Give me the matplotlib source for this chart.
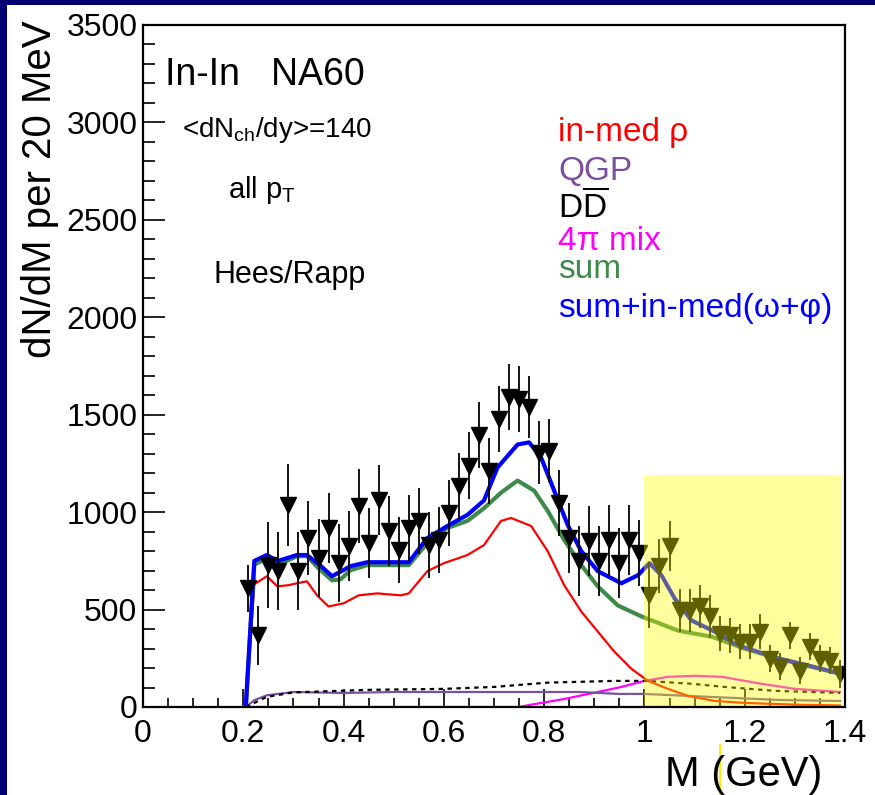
import numpy as np
import matplotlib
matplotlib.use("Agg")
import matplotlib.pyplot as plt
from matplotlib.patches import Rectangle
from matplotlib.lines import Line2D
from matplotlib.ticker import MultipleLocator

plt.rcParams['font.family'] = ['Liberation Sans', 'DejaVu Sans']
plt.rcParams['mathtext.fontset'] = 'custom'
plt.rcParams['mathtext.rm'] = 'Liberation Sans'
plt.rcParams['mathtext.it'] = 'Liberation Sans:italic'
plt.rcParams['mathtext.bf'] = 'Liberation Sans:bold'

# === NA60 data (In-In), 20 MeV bins ===
m_data = np.round(np.arange(0.21, 1.40, 0.02), 3)
y_data = [610, 367, 728, 697, 1038, 697, 867, 764, 919, 738,
          826, 1033, 841, 1064, 903, 805, 919, 955, 831, 857,
          996, 1136, 1239, 1394, 1213, 1477, 1590, 1580, 1538, 1306,
          1316, 1048, 867, 749, 852, 749, 857, 738, 857, 790,
          573, 723, 826, 496, 496, 516, 465, 377, 367, 336,
          336, 387, 248, 206, 367, 186, 310, 248, 237, 170]
err_data = [120, 150, 220, 200, 210, 200, 190, 200, 180, 200,
            180, 190, 180, 180, 180, 170, 170, 170, 170, 170,
            170, 170, 170, 170, 170, 170, 170, 170, 160, 160,
            160, 170, 180, 180, 180, 180, 180, 180, 180, 170,
            170, 140, 130, 110, 110, 110, 110, 90, 90, 90,
            90, 90, 70, 70, 70, 70, 70, 70, 70, 70]

# === Theory curves (Hees/Rapp) ===
m_rho = [0.205, 0.222, 0.247, 0.268, 0.29, 0.307, 0.327, 0.347, 0.37, 0.40,
         0.43, 0.467, 0.514, 0.53, 0.567, 0.60, 0.647, 0.68, 0.714, 0.734,
         0.774, 0.807, 0.84, 0.874, 0.907, 0.94, 0.974, 1.007, 1.047, 1.087,
         1.14, 1.2, 1.3, 1.39]
y_rho = [0, 630, 671, 619, 625, 635, 645, 573, 516, 532,
         573, 583, 573, 583, 697, 738, 780, 831, 955, 970,
         929, 800, 625, 490, 387, 284, 196, 134, 93, 57,
         31, 21, 12, 8]

m_qgp = [0.205, 0.222, 0.247, 0.30, 0.40, 0.50, 0.60, 0.70, 0.80, 0.87,
         0.95, 1.0, 1.13, 1.27, 1.39]
y_qgp = [0, 35, 60, 77, 72, 77, 77, 77, 77, 77, 67, 67, 52, 36, 31]

m_ddbar = [0.205, 0.247, 0.30, 0.45, 0.60, 0.70, 0.807, 0.94, 1.0, 1.034,
           1.1, 1.16, 1.26, 1.39]
y_ddbar = [0, 52, 75, 88, 93, 103, 125, 134, 134, 129, 118, 103, 83, 72]

m_mix = [0.20, 0.75, 0.77, 0.84, 0.907, 0.954, 1.0, 1.047, 1.1, 1.154,
         1.234, 1.3, 1.39]
y_mix = [0, 0, 10, 41, 77, 103, 134, 155, 160, 155, 119, 93, 77]

m_sum = [0.205, 0.222, 0.247, 0.268, 0.307, 0.327, 0.35, 0.377, 0.394, 0.414,
         0.447, 0.487, 0.53, 0.567, 0.607, 0.647, 0.68, 0.714, 0.747, 0.78,
         0.807, 0.84, 0.874, 0.907, 0.947, 0.994, 1.067, 1.134, 1.2, 1.267,
         1.334, 1.39]
y_sum = [0, 730, 764, 728, 774, 774, 712, 650, 655, 702,
         728, 728, 728, 841, 919, 955, 1020, 1100, 1162, 1110,
         1007, 857, 728, 619, 521, 465, 392, 361, 299, 248,
         206, 170]

m_sumw = [0.205, 0.222, 0.247, 0.268, 0.307, 0.327, 0.355, 0.377, 0.414, 0.447,
          0.53, 0.567, 0.607, 0.647, 0.68, 0.707, 0.747, 0.77, 0.794, 0.82,
          0.847, 0.874, 0.907, 0.954, 0.987, 1.01, 1.034, 1.06, 1.094, 1.14,
          1.18, 1.2, 1.267, 1.334, 1.39]
y_sumw = [0, 750, 780, 749, 780, 780, 723, 671, 723, 743,
          743, 867, 929, 986, 1060, 1229, 1347, 1358, 1280, 1110,
          934, 800, 697, 635, 676, 738, 676, 558, 444, 387,
          325, 305, 250, 208, 172]

legend_labels = ['in-med ρ', 'QGP', r'D$\overline{\mathrm{D}}$', '4π mix', 'sum',
                 'sum+in-med(ω+φ)']
legend_colors = ['#ff0000', '#7a4f9e', '#000000', '#ff00ff', '#3d8a4a', '#0000ff']

W, H = 875, 795

def px(x, y):
    # Pixel (von oben links) -> Figure-Koordinaten
    return x / W, 1 - y / H

fig = plt.figure(figsize=(W / 100, H / 100), dpi=100)
fig.patch.set_facecolor('white')

# dunkelblauer Rand links und oben
fig.patches.append(Rectangle((0, 0), 7 / W, 1, transform=fig.transFigure,
                             facecolor='#000070', edgecolor='none', zorder=0))
fig.patches.append(Rectangle((0, 1 - 5 / H), 1, 5 / H, transform=fig.transFigure,
                             facecolor='#000070', edgecolor='none', zorder=0))

ax = fig.add_axes([143 / W, (H - 707) / H, (845 - 143) / W, (707 - 25) / H])
ax.set_xlim(0, 1.4)
ax.set_ylim(0, 3500)

ax.plot(m_mix, y_mix, color='#ff00ff', lw=1.6, zorder=3)
ax.plot(m_qgp, y_qgp, color='#7a4f9e', lw=1.6, zorder=3)
ax.plot(m_ddbar, y_ddbar, color='black', lw=1.6, ls=(0, (2, 2)), zorder=3)
ax.plot(m_rho, y_rho, color='#ff0000', lw=1.6, zorder=4)
ax.plot(m_sum, y_sum, color='#3d8a4a', lw=3.0, zorder=4)
ax.plot(m_sumw, y_sumw, color='#0000ff', lw=3.0, zorder=5)

ax.errorbar(m_data, y_data, yerr=err_data, fmt='v', color='black', ms=12,
            elinewidth=1.3, capsize=0, zorder=6)

# gelb markierter Bereich (halbtransparent, über den Kurven)
ax.add_patch(Rectangle((1.0, 0), 0.395, 1190, facecolor=(1, 1, 0), alpha=0.38,
                       edgecolor='none', zorder=10))

for s in ax.spines.values():
    s.set_linewidth(1.6)
    s.set_zorder(12)

ax.xaxis.set_major_locator(MultipleLocator(0.2))
ax.xaxis.set_minor_locator(MultipleLocator(0.05))
ax.yaxis.set_major_locator(MultipleLocator(500))
ax.yaxis.set_minor_locator(MultipleLocator(100))
ax.set_xticks([0, 0.2, 0.4, 0.6, 0.8, 1.0, 1.2, 1.4])
ax.set_xticklabels(['0', '0.2', '0.4', '0.6', '0.8', '1', '1.2', '1.4'])
ax.tick_params(axis='both', which='both', direction='in', top=False, right=False,
               labelsize=23, width=1.2)
ax.tick_params(axis='y', which='major', length=16, pad=4)
ax.tick_params(axis='y', which='minor', length=8.5)
ax.tick_params(axis='x', which='major', length=13, pad=9)
ax.tick_params(axis='x', which='minor', length=6.5)

# Achsentitel
fig.text(*px(40, 20), 'dN/dM per 20 MeV', rotation=90, ha='center', va='top',
         fontsize=29)
fig.text(*px(822, 775), 'M (GeV)', ha='right', va='center', fontsize=30)

# Beschriftungen
fig.text(*px(165, 75), 'In-In   NA60', ha='left', va='center', fontsize=27)
fig.text(*px(182, 130), r'<dN$_\mathrm{ch}$/dy>=140', ha='left', va='center', fontsize=20)
fig.text(*px(228, 190), r'all p$_\mathrm{T}$', ha='left', va='center', fontsize=21)
fig.text(*px(213, 275), 'Hees/Rapp', ha='left', va='center', fontsize=22)

legend_y = [133, 172, 207, 241, 270, 308]
for lab, col, yy in zip(legend_labels, legend_colors, legend_y):
    fig.text(*px(558, yy), lab, color=col, ha='left', va='center', fontsize=24)

# kleine gelbe Markierung unter der Achse
fig.add_artist(Line2D([720 / W, 720 / W], [0, 1 - 745 / H], color='#ffee00', lw=1.5))

fig.savefig('out.png', dpi=100, facecolor=fig.get_facecolor())
